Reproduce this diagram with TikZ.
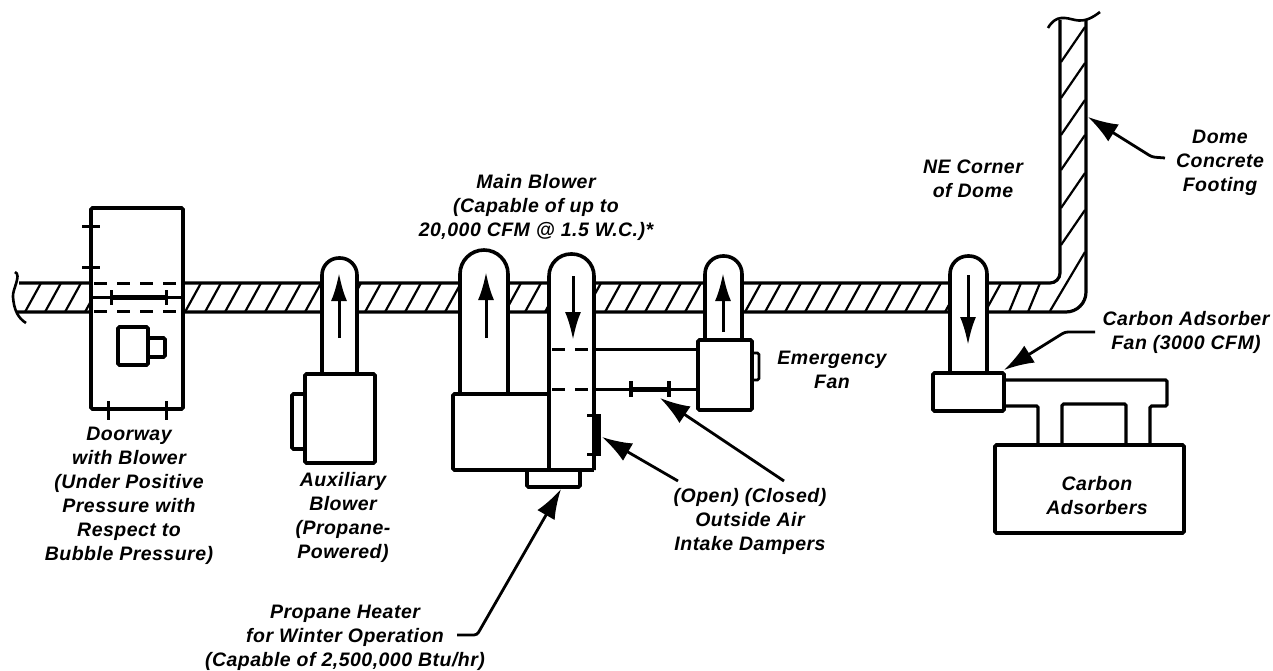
\documentclass[tikz,border=0pt]{standalone}
\usepackage{fontspec}
\newfontface\calloutface{Liberation Sans Bold Italic}[LetterSpace=2.5]
\usetikzlibrary{arrows.meta}

\begin{document}
\begin{tikzpicture}[
        x=1pt, y=-1pt,
        callout/.style={align=center, inner sep=0pt, font=\calloutface\fontsize{19.5}{24}\selectfont},
        wall/.style={line width=3.2pt, rounded corners=10pt},
        hatch/.style={line width=2.2pt},
        unit/.style={draw, line width=3.6pt, fill=white, rounded corners=1.5pt},
        duct/.style={draw, line width=3.6pt, fill=white},
        flow/.style={-{Latex[length=28pt, width=16pt]}, line width=3pt},
        leader/.style={-{Latex[length=30pt, width=20pt]}, line width=2.8pt, rounded corners=3pt},
        damper/.style={line width=3pt},
        thickblade/.style={line width=5pt},
        gapline/.style={line width=3pt, dash pattern=on 13pt off 10pt}
    ]
    \useasboundingbox (0, 0) rectangle (1273, 671);

    %% --- Footing: break marks and outline ---
    \draw[line width=2.6pt] (15, 272) .. controls (22, 275) and (12, 290) .. (13, 297)
        .. controls (14, 310) and (18, 318) .. (26, 323);
    \draw[line width=2.6pt] (1048, 28) .. controls (1056, 14) and (1066, 18) .. (1075, 20)
        .. controls (1085, 22) and (1092, 18) .. (1100, 12);
    \draw[wall] (19, 283) -- (1060, 283) -- (1060, 20);
    \draw[wall, rounded corners=20pt] (17, 312) -- (1086, 312) -- (1086, 20);

    %% --- Footing hatching ---
    \foreach \hx in {25, 45, ..., 985}
        \draw[hatch] (\hx, 312) -- ({\hx+16}, 283);
    \draw[hatch] (1009, 312) -- (1021, 283);
    \draw[hatch] (1028, 312) -- (1040, 283);
    \draw[hatch] (1050, 311) -- (1085, 252);
    \foreach \hy in {62, 98, 135, 170, 208, 245}
        \draw[hatch] (1061, \hy) -- (1085, {\hy-35});

    %% --- Doorway with blower ---
    \draw[unit, fill=white] (91, 208) rectangle (183, 409);
    \draw[line width=4.6pt] (91, 226) -- (91, 300);
    \draw[damper] (82, 226) -- (100, 226);
    \draw[damper] (82, 267) -- (100, 267);
    \draw[gapline] (94, 283) -- (176, 283);
    \draw[gapline] (94, 311) -- (176, 311);
    \draw[damper] (91, 297) -- (183, 297);
    \draw[thickblade] (111, 297) -- (166, 297);
    \draw[damper] (111, 290) -- (111, 305);
    \draw[damper] (166, 290) -- (166, 305);
    \draw[damper] (108, 401) -- (108, 420);
    \draw[damper] (166, 401) -- (166, 420);
    \draw[unit] (148, 338) rectangle (165, 357);
    \draw[unit] (118, 327) rectangle (148, 365);

    %% --- Auxiliary blower ---
    \draw[duct, rounded corners=17pt] (322, 374) -- (322, 258) -- (357, 258) -- (357, 374);
    \draw[unit] (292, 394) rectangle (305, 449);
    \draw[unit] (305, 374) rectangle (375, 463);
    \draw[flow] (339, 338) -- (339, 273);

    %% --- Main blower and intake duct ---
    \draw[duct, rounded corners=24pt] (460, 394) -- (460, 250) -- (508, 250) -- (508, 394);
    \draw[unit] (453, 394) rectangle (550, 470);
    \draw[unit] (527, 470) rectangle (580, 487);
    \draw[duct, rounded corners=22pt] (549, 470) -- (549, 254) -- (594, 254) -- (594, 470);
    \draw[line width=3.6pt] (549, 470) -- (594, 470);
    \draw[flow] (486, 338) -- (486, 272);
    \draw[flow] (573, 276) -- (573, 340);
    \draw[gapline] (552, 349) -- (594, 349);
    \draw[gapline] (552, 389) -- (594, 389);

    %% --- Outside air intake dampers ---
    \draw[damper] (594, 349) -- (698, 349);
    \draw[damper] (594, 389) -- (698, 389);
    \draw[thickblade] (631, 389) -- (669, 389);
    \draw[line width=3.6pt] (631, 381) -- (631, 397);
    \draw[line width=3.6pt] (669, 381) -- (669, 397);
    \draw[thickblade] (598, 415) -- (598, 454);
    \draw[damper] (587, 415) -- (601, 415);
    \draw[damper] (587, 454) -- (601, 454);

    %% --- Emergency fan ---
    \draw[duct, rounded corners=18pt] (705, 340) -- (705, 256) -- (742, 256) -- (742, 340);
    \draw[unit, line width=2.8pt] (752, 353) rectangle (759, 380);
    \draw[unit] (698, 340) rectangle (752, 410);
    \draw[flow] (723, 332) -- (723, 273);

    %% --- NE corner: adsorber fan and carbon adsorbers ---
    \draw[duct, rounded corners=18pt] (950, 373) -- (950, 256) -- (987, 256) -- (987, 373);
    \draw[flow] (968, 275) -- (968, 345);
    \draw[line width=3.2pt, rounded corners=1.5pt] (1004, 380) -- (1167, 380) -- (1167, 406)
        -- (1150, 406) -- (1150, 445);
    \draw[line width=3.2pt, rounded corners=1.5pt] (1004, 406) -- (1038, 406) -- (1038, 445);
    \draw[line width=3.2pt, rounded corners=1.5pt] (1062, 445) -- (1062, 404) -- (1126, 404) -- (1126, 445);
    \draw[unit] (933, 373) rectangle (1004, 411);
    \draw[unit] (995, 445) rectangle (1184, 533);

    %% --- Labels ---
    \node[callout] (doorlabel) at (129, 496) {Doorway\\with Blower\\(Under Positive\\Pressure with\\Respect to\\Bubble Pressure)};
    \node[callout] (auxlabel) at (343, 517) {Auxiliary\\Blower\\(Propane-\\Powered)};
    \node[callout] (mainlabel) at (536, 207) {Main Blower\\(Capable of up to\\20,000 CFM @ 1.5 W.C.)*};
    \node[callout] (fanlabel) at (832, 370) {Emergency\\Fan};
    \node[callout] (cornerlabel) at (973, 179) {NE Corner\\of Dome};
    \node[callout] (footinglabel) at (1220, 163) {Dome\\Concrete\\Footing};
    \node[callout] (adsfanlabel) at (1186, 332) {Carbon Adsorber\\Fan (3000 CFM)};
    \node[callout] (adslabel) at (1097, 496) {Carbon\\Adsorbers};
    \node[callout] (damperlabel) at (750, 521) {(Open) (Closed)\\Outside Air\\Intake Dampers};
    \node[callout] (heaterlabel) at (345, 638) {Propane Heater\\for Winter Operation\\(Capable of 2,500,000 Btu/hr)};

    %% --- Leaders ---
    \coordinate (footingtail) at (1165, 158);
    \coordinate (footingbend) at (1152, 157);
    \coordinate (footingtip)  at (1088, 117);
    \draw[leader] (footingtail) -- (footingbend) -- (footingtip);

    \coordinate (adsfantail) at (1095, 332);
    \coordinate (adsfanbend) at (1065, 332);
    \coordinate (adsfantip)  at (1004, 370);
    \draw[leader] (adsfantail) -- (adsfanbend) -- (adsfantip);

    \coordinate (opentail) at (678, 481);
    \coordinate (opentip)  at (602, 437);
    \draw[leader] (opentail) -- (opentip);

    \coordinate (closedtail) at (784, 481);
    \coordinate (closedtip)  at (660, 398);
    \draw[leader] (closedtail) -- (closedtip);

    \coordinate (heatertail) at (457, 635);
    \coordinate (heaterbend) at (477, 635);
    \coordinate (heatertip)  at (561, 489);
    \draw[leader] (heatertail) -- (heaterbend) -- (heatertip);
\end{tikzpicture}
\end{document}
